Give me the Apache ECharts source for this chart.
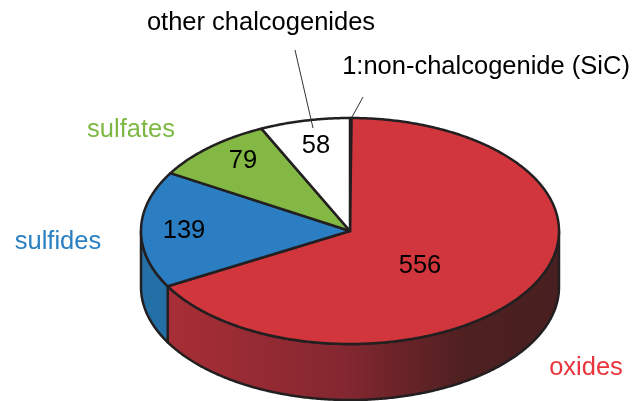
<!DOCTYPE html>
<html>
<head>
<meta charset="utf-8">
<script src="https://cdn.jsdelivr.net/npm/echarts@6/dist/echarts.min.js"></script>
<style>
  html, body { margin: 0; padding: 0; background: #ffffff; }
  #chart { width: 638px; height: 401px; }
</style>
</head>
<body>
<div id="chart"></div>
<script>
// Compound classes, listed clockwise starting from 12 o'clock
const categories = ['1:non-chalcogenide (SiC)', 'oxides', 'sulfides', 'sulfates', 'other chalcogenides'];
const counts = [1, 556, 139, 79, 58];

// Appearance: face colours, side colours and label colours per class
const topColors = ['#A5A5A5', '#D1363D', '#2B7EC1', '#82B843', '#FFFFFF'];
const sideColors = ['#8A8A8A', null, '#2470A6', '#6E9C38', '#D9D9D9'];
const nameColors = ['#000000', '#E8343C', '#2A7FC1', '#7DB843', '#000000'];

// Geometry of the tilted disc
const geom = { cx: 350, cy: 231, rx: 209, ry: 113, depth: 56 };

// Where each class name and value sit
const layout = {
  valueAt: [null, [420, 266], [184, 231], [243, 161], [316, 146]],
  nameAt: [[486, 67], [586, 368], [58, 242], [131, 130], [261, 23]],
  leader: [[[363, 97], [352, 117]], null, null, null, [[295, 50], [313, 128]]]
};

const FONT = '25.5px Arial, "Liberation Sans", sans-serif';
const STROKE = '#231F20';

const total = counts.reduce((a, b) => a + b, 0);
const starts = [];
let acc = 0;
counts.forEach(v => { starts.push(acc / total * Math.PI * 2); acc += v; });

// Point on the disc rim at angle theta (clockwise from top), dy pixels down
function pt(theta, dy) {
  return [geom.cx + geom.rx * Math.sin(theta), geom.cy - geom.ry * Math.cos(theta) + (dy || 0)];
}
function arc(a0, a1, dy) {
  const pts = [];
  const n = Math.max(2, Math.ceil((a1 - a0) / (Math.PI / 360)));
  for (let i = 0; i <= n; i++) pts.push(pt(a0 + (a1 - a0) * i / n, dy));
  return pts;
}

const oxideSide = {
  type: 'linear', x: 0, y: 0, x2: 1, y2: 0,
  colorStops: [
    { offset: 0, color: '#A82E36' },
    { offset: 0.45, color: '#842730' },
    { offset: 0.75, color: '#4F2021' },
    { offset: 1, color: '#481F20' }
  ]
};

function renderItem(params, api) {
  const i = params.dataIndex;
  const a0 = starts[i];
  const a1 = a0 + api.value(0) / total * Math.PI * 2;
  const children = [];

  // Visible rim: the front half of the disc
  const s0 = Math.max(a0, Math.PI / 2), s1 = Math.min(a1, Math.PI * 1.5);
  if (s1 > s0) {
    const top = arc(s0, s1, 0);
    const bottom = arc(s0, s1, geom.depth).reverse();
    children.push({
      type: 'polygon', z2: 1,
      shape: { points: top.concat(bottom) },
      style: { fill: sideColors[i] || oxideSide, stroke: STROKE, lineWidth: 2.5, lineJoin: 'round' }
    });
  }

  // Top face
  children.push({
    type: 'polygon', z2: 5,
    shape: { points: [[geom.cx, geom.cy]].concat(arc(a0, a1, 0)) },
    style: { fill: topColors[i], stroke: STROKE, lineWidth: 2.5, lineJoin: 'round' }
  });

  if (layout.valueAt[i]) {
    children.push({
      type: 'text', z2: 20,
      x: layout.valueAt[i][0], y: layout.valueAt[i][1],
      style: { text: String(api.value(0)), fill: '#000', font: FONT, align: 'center', verticalAlign: 'middle' }
    });
  }
  children.push({
    type: 'text', z2: 20,
    x: layout.nameAt[i][0], y: layout.nameAt[i][1],
    style: { text: categories[i], fill: nameColors[i], font: FONT, align: 'center', verticalAlign: 'middle' }
  });
  if (layout.leader[i]) {
    children.push({
      type: 'polyline', z2: 21,
      shape: { points: layout.leader[i] },
      style: { stroke: '#333333', lineWidth: 1, fill: null }
    });
  }
  return { type: 'group', children: children };
}

const chart = echarts.init(document.getElementById('chart'), null, { renderer: 'canvas' });
chart.setOption({
  animation: false,
  backgroundColor: '#ffffff',
  series: [{
    type: 'custom',
    coordinateSystem: 'none',
    renderItem: renderItem,
    data: counts.map((v, k) => ({ name: categories[k], value: [v] }))
  }]
});
</script>
</body>
</html>
